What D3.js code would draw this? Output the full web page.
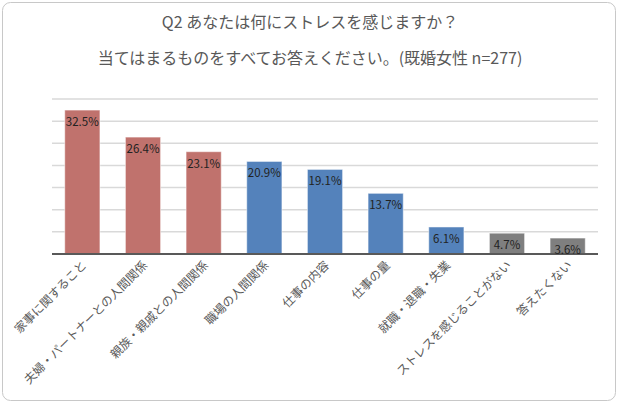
<!DOCTYPE html><html><head><meta charset="utf-8"><script src="https://cdn.jsdelivr.net/npm/d3@7"></script>
<style>body{margin:0;background:#fff}text{font-family:"Noto Sans CJK JP","Noto Sans",sans-serif}</style></head><body><svg id="c" width="620" height="406"></svg>
<script>
const categories=["家事に関すること","夫婦・パートナーとの人間関係","親族・親戚との人間関係","職場の人間関係","仕事の内容","仕事の量","就職・退職・失業","ストレスを感じることがない","答えたくない"];
const values=[32.5,26.4,23.1,20.9,19.1,13.7,6.1,4.7,3.6];
const groups=["r","r","r","b","b","b","b","g","g"];
const ticks=[0,5,10,15,20,25,30,35];
const colors={r:"#c0726d",b:"#5482bb",g:"#7f7f7f"};
const svg=d3.select("#c");
svg.append("rect").attr("x",2.5).attr("y",2.5).attr("width",613).attr("height",398).attr("rx",8).attr("fill","#fff").attr("stroke","#c8c8c8");
svg.append("text").attr("x",310).attr("y",28).attr("text-anchor","middle").attr("font-size",16).attr("fill","#595959").text("Q2 あなたは何にストレスを感じますか？");
svg.append("text").attr("x",310).attr("y",64).attr("text-anchor","middle").attr("font-size",16).attr("fill","#595959").text("当てはまるものをすべてお答えください。(既婚女性 n=277)");
const x=d3.scaleBand().domain(categories).range([52,598]).paddingInner(0.42).paddingOuter(0.21);
const y=d3.scaleLinear().domain([0,35]).range([254,99]);
svg.append("g").selectAll("line").data(ticks.slice(1)).join("line").attr("x1",52).attr("x2",598).attr("y1",d=>y(d)).attr("y2",d=>y(d)).attr("stroke","#d9d9d9").attr("stroke-width",1.5);
svg.append("g").selectAll("rect").data(values).join("rect").attr("x",(d,i)=>x(categories[i])).attr("width",x.bandwidth()).attr("y",d=>y(d)).attr("height",d=>y(0)-y(d)).attr("fill",(d,i)=>colors[groups[i]]).attr("stroke","#fff").attr("stroke-opacity",0.5);
svg.append("line").attr("x1",52).attr("x2",598).attr("y1",y(0)).attr("y2",y(0)).attr("stroke","#595959").attr("stroke-width",2);
svg.append("g").selectAll("text").data(values).join("text").attr("x",(d,i)=>x(categories[i])+x.bandwidth()/2).attr("y",d=>y(d)+16).attr("text-anchor","middle").attr("font-size",11.5).attr("fill","#222").text(d=>d.toFixed(1)+"%");
svg.append("g").selectAll("text").data(categories).join("text").attr("transform",d=>`translate(${x(d)+x.bandwidth()/2+5},${y(0)+12}) rotate(-45)`).attr("text-anchor","end").attr("font-size",12).attr("fill","#595959").text(d=>d);
</script></body></html>
